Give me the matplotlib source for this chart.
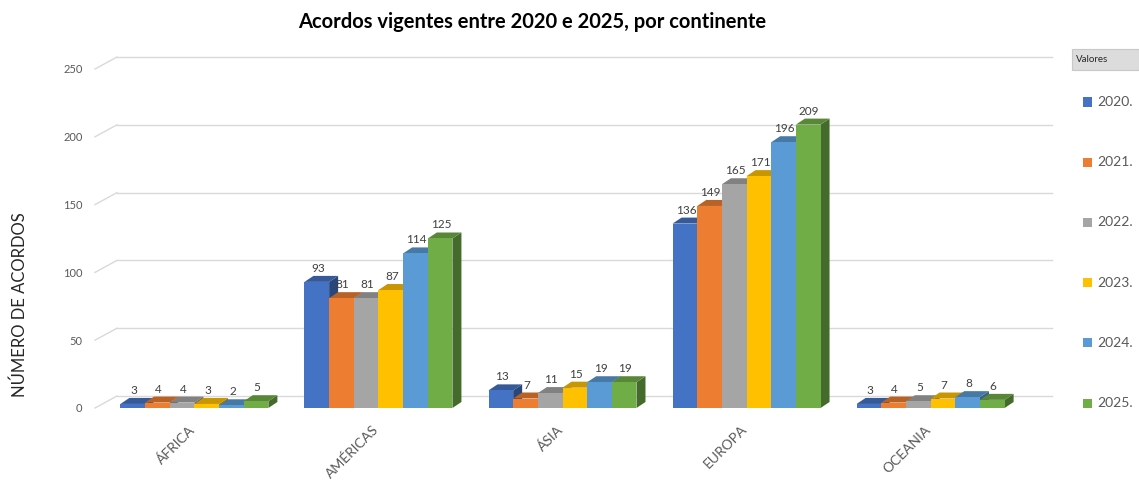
import matplotlib
matplotlib.use('Agg')
import matplotlib.pyplot as plt
from matplotlib.patches import Polygon, Rectangle
import matplotlib.transforms as mtransforms
import matplotlib.colors as mcolors
import numpy as np

# ---------------- data ----------------
categories = ['ÁFRICA', 'AMÉRICAS', 'ÁSIA', 'EUROPA', 'OCEANIA']
series_names = ['2020.', '2021.', '2022.', '2023.', '2024.', '2025.']
v2020 = [3, 93, 13, 136, 3]
v2021 = [4, 81, 7, 149, 4]
v2022 = [4, 81, 11, 165, 5]
v2023 = [3, 87, 15, 171, 7]
v2024 = [2, 114, 19, 196, 8]
v2025 = [5, 125, 19, 209, 6]
series_values = [v2020, v2021, v2022, v2023, v2024, v2025]
yticks = [0, 50, 100, 150, 200, 250]

title = 'Acordos vigentes entre 2020 e 2025, por continente'
ylabel = 'NÚMERO DE ACORDOS'
legend_title = 'Valores'

# ---------------- style ----------------
colors = ['#4472C4', '#ED7D31', '#A5A5A5', '#FFC000', '#5B9BD5', '#70AD47']
FONT = ['Lato', 'DejaVu Sans']
plt.rcParams['font.family'] = FONT


def shade(c, f):
    r, g, b = mcolors.to_rgb(c)
    return (r * f, g * f, b * f)


W, H = 1139, 482
fig = plt.figure(figsize=(W / 100, H / 100), dpi=100)
left_px, right_px, bottom_px, top_px = 95, 1030, 408, 69
ax = fig.add_axes([left_px / W, 1 - bottom_px / H,
                   (right_px - left_px) / W, (bottom_px - top_px) / H])
xmin, xmax = -0.54, 4.54
ax.set_xlim(xmin, xmax)
ax.set_ylim(0, 250)
for s in ax.spines.values():
    s.set_visible(False)
ax.set_facecolor('none')

# pixel scale
p0 = ax.transData.transform((0, 0))
p1 = ax.transData.transform((1, 1))
sx, sy = p1[0] - p0[0], p1[1] - p0[1]

# back wall gridlines
wall_dx, wall_dy = 22, 12
wall = mtransforms.offset_copy(ax.transData, fig=fig, x=wall_dx, y=wall_dy, units='dots')
for g in yticks:
    ax.plot([xmin, xmax], [g, g], color='#d9d9d9', lw=1, transform=wall,
            clip_on=False, zorder=0)
    ax.plot([xmin, xmin + wall_dx / sx], [g, g + wall_dy / sy], color='#d9d9d9',
            lw=1, clip_on=False, zorder=0)

# bars
n = len(series_names)
bw = 0.134
ddx, ddy = 9 / sx, 6 / sy
x = np.arange(len(categories))
for j, (name, vals) in enumerate(zip(series_names, series_values)):
    xs = x + (j - (n - 1) / 2) * bw
    base_z = 2 + 3 * j
    ax.bar(xs, vals, width=bw, color=colors[j], zorder=base_z + 2, linewidth=0)
    for xc, v in zip(xs, vals):
        x0, x1 = xc - bw / 2, xc + bw / 2
        top = Polygon([(x0, v), (x1, v), (x1 + ddx, v + ddy), (x0 + ddx, v + ddy)],
                      closed=True, facecolor=shade(colors[j], 0.78), lw=0,
                      zorder=base_z + 1)
        side = Polygon([(x1, 0), (x1 + ddx, ddy), (x1 + ddx, v + ddy), (x1, v)],
                       closed=True, facecolor=shade(colors[j], 0.62), lw=0,
                       zorder=base_z)
        ax.add_patch(top)
        ax.add_patch(side)
        ax.annotate(str(v), (xc, v), xytext=(1, 8), textcoords='offset pixels',
                    ha='center', va='bottom', fontsize=8.5, color='#404040', zorder=50)

# axes ticks
ax.set_yticks(yticks)
ax.set_yticklabels([str(t) for t in yticks])
ax.tick_params(axis='y', length=0, pad=9, labelsize=8, labelcolor='#595959')
ax.set_xticks(x)
ax.set_xticklabels(categories, rotation=45, ha='right', rotation_mode='anchor')
ax.tick_params(axis='x', length=0, pad=11, labelsize=10, labelcolor='#595959')
shift = mtransforms.ScaledTranslation(-6 / 100, 0, fig.dpi_scale_trans)
for lab in ax.get_xticklabels():
    lab.set_transform(lab.get_transform() + shift)

# title & y label
fig.text(532 / W, 1 - 22 / H, title, ha='center', va='center', fontsize=14.5,
         fontweight='bold', color='#000000')
fig.text(20 / W, 1 - 305 / H, ylabel, ha='center', va='center', rotation=90,
         fontsize=12, color='#262626')

# legend title box
fig.patches.append(Rectangle((1072 / W, 1 - 70 / H), (1139 - 1072) / W, 21 / H,
                             transform=fig.transFigure, facecolor='#dcdcdc',
                             edgecolor='#c8c8c8', lw=0.8))
fig.text(1076 / W, 1 - 60 / H, legend_title, ha='left', va='center', fontsize=7,
         color='#262626')

# legend entries
for k, name in enumerate(series_names):
    yk = 102 + k * 60.2
    fig.patches.append(Rectangle((1083 / W, 1 - (yk + 4.5) / H), 9 / W, 9 / H,
                                 transform=fig.transFigure, facecolor=colors[k], lw=0))
    fig.text(1097 / W, 1 - yk / H, name, ha='left', va='center', fontsize=10,
             color='#595959')

fig.savefig('out.png', dpi=100)
